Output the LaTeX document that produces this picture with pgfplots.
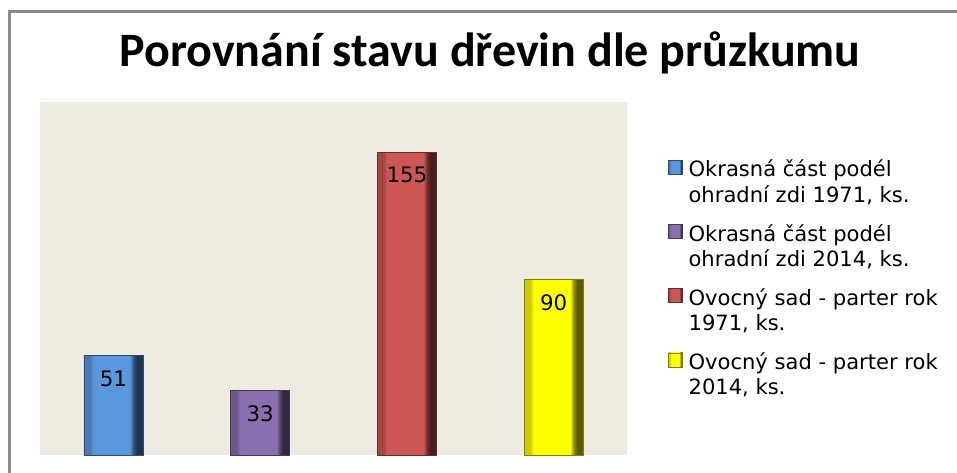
\documentclass[border=0pt]{standalone}
\usepackage{pgfplots}
\pgfplotsset{compat=1.18}
\usepackage{fontspec}
\setmainfont{DejaVu Sans}
\newfontfamily\titlefont{Carlito}
\definecolor{bgc}{RGB}{238,235,224}
\definecolor{c1}{RGB}{90,151,220}
\definecolor{c2}{RGB}{138,111,174}
\definecolor{c3}{RGB}{205,87,84}
\definecolor{c4}{RGB}{255,255,0}
\definecolor{frame}{RGB}{140,140,140}
\pgfdeclarehorizontalshading{bevA}{100bp}{color(0bp)=(c1!80!black); color(30bp)=(c1!80!black); color(33bp)=(c1); color(64bp)=(c1); color(67bp)=(c1!55!black); color(70bp)=(c1!35!black); color(100bp)=(c1!35!black)}
\pgfdeclarehorizontalshading{bevB}{100bp}{color(0bp)=(c2!80!black); color(30bp)=(c2!80!black); color(33bp)=(c2); color(64bp)=(c2); color(67bp)=(c2!55!black); color(70bp)=(c2!35!black); color(100bp)=(c2!35!black)}
\pgfdeclarehorizontalshading{bevC}{100bp}{color(0bp)=(c3!80!black); color(30bp)=(c3!80!black); color(33bp)=(c3); color(64bp)=(c3); color(67bp)=(c3!55!black); color(70bp)=(c3!35!black); color(100bp)=(c3!35!black)}
\pgfdeclarehorizontalshading{bevD}{100bp}{color(0bp)=(c4!80!black); color(30bp)=(c4!80!black); color(33bp)=(c4); color(64bp)=(c4); color(67bp)=(c4!55!black); color(70bp)=(c4!35!black); color(100bp)=(c4!35!black)}
\begin{document}
\begin{tikzpicture}
\path[use as bounding box] (0,0) rectangle (717.75pt,354pt);
\draw[frame, line width=1.6pt] (7.1pt,-2pt) -- (7.1pt,345.4pt) -- (720pt,345.4pt);
\node[anchor=base, font=\titlefont\bfseries\fontsize{36}{40}\selectfont] at (367.5pt,303.75pt) {Porovnání stavu dřevin dle průzkumu};
\begin{axis}[
  at={(30pt,12.75pt)}, anchor=south west,
  width=440.25pt, height=264.75pt, scale only axis,
  xmin=-0.5, xmax=3.5, ymin=0, ymax=180.6,
  axis line style={draw=none},
  xtick=\empty, ytick=\empty,
  axis background/.style={fill=bgc},
  ybar, bar width=44.25pt, bar shift=0pt,
  /pgf/number format/assume math mode=true,
  nodes near coords,
  every node near coord/.append style={anchor=north, yshift=-8pt, font=\fontsize{16}{18}\selectfont, text=black},
  legend style={at={(1,0.5)}, anchor=west, xshift=28pt, draw=none, fill=none,
    font=\fontsize{15.8}{19}\selectfont, row sep=11pt,
    cells={align=left}},
  legend cell align=left,
  legend image code/.code={\pgfpathrectangle{\pgfpoint{0pt}{6pt}}{\pgfpoint{13pt}{1pt}}\pgfusepath{use as bounding box}
    \draw[#1] (0pt,6pt) rectangle (10.5pt,16.5pt);},
]
\addplot[shade, shading=bevA, draw=c1!50!black] coordinates {(0,51)};
\addlegendentry{Okrasná část podél\\ohradní zdi 1971, ks.}
\addplot[shade, shading=bevB, draw=c2!50!black] coordinates {(1,33)};
\addlegendentry{Okrasná část podél\\ohradní zdi 2014, ks.}
\addplot[shade, shading=bevC, draw=c3!50!black] coordinates {(2,155)};
\addlegendentry{Ovocný sad - parter rok\\1971, ks.}
\addplot[shade, shading=bevD, draw=c4!50!black] coordinates {(3,90)};
\addlegendentry{Ovocný sad - parter rok\\2014, ks.}
\end{axis}
\end{tikzpicture}
\end{document}
